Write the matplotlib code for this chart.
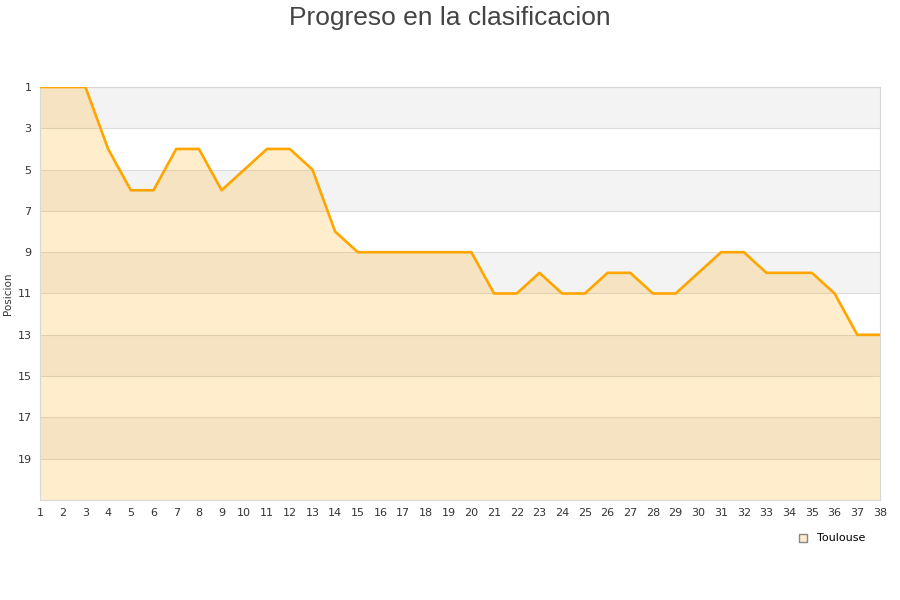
import matplotlib
matplotlib.use("Agg")
import matplotlib.pyplot as plt
import numpy as np

# jornadas y posiciones
jornadas = list(range(1, 39))
posicion = [1, 1, 1, 4, 6, 6, 4, 4, 6, 5, 4, 4, 5, 8, 9, 9, 9, 9, 9, 9,
            11, 11, 10, 11, 11, 10, 10, 11, 11, 10, 9, 9, 10, 10, 10, 11, 13, 13]
y_ticks = [1, 3, 5, 7, 9, 11, 13, 15, 17, 19]
equipo = "Toulouse"

fig = plt.figure(figsize=(9, 6), dpi=100)
ax = fig.add_axes([40/900, 100/600, 840/900, 413/600])

# bandas alternas
for i, y0 in enumerate(range(1, 21, 2)):
    if i % 2 == 0:
        ax.axhspan(y0, y0 + 2, color='#f3f3f3', zorder=0, lw=0)
    ax.axhline(y0, color='#dcdcdc', lw=0.8, zorder=1)

# area y linea
ax.fill_between(jornadas, posicion, 21, color='#ffa500', alpha=0.2, lw=0, zorder=2)
ax.plot(jornadas, posicion, color='#ffa500', lw=1.9, zorder=3)

ax.set_xlim(1, 38)
ax.set_ylim(21, 1)
ax.set_xticks(jornadas)
ax.set_yticks(y_ticks)
ax.tick_params(length=0, labelsize=8, colors='#333333', pad=6)
for s in ax.spines.values():
    s.set_color('#d8d8d8')
ax.set_ylabel('Posicion', fontsize=7.5, color='#333333', labelpad=3)

fig.suptitle('Progreso en la clasificacion', fontsize=19, color='#444444',
             family='Liberation Sans', y=0.99)

ax.scatter([], [], marker='s', s=30, facecolor='#feecce', edgecolor='#888888', label=equipo)
ax.legend(loc='upper right', bbox_to_anchor=(830/840, -0.07), frameon=False,
          fontsize=8, handletextpad=0.3, borderaxespad=0)

fig.savefig('out.png', dpi=100)
